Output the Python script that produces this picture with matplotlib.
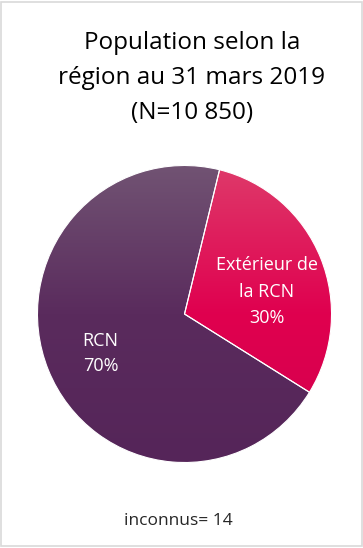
import matplotlib.pyplot as plt
import matplotlib.patches as mpatches
import numpy as np
from matplotlib.colors import LinearSegmentedColormap

# données
categories = ['Extérieur de\nla RCN', 'RCN']
valeurs = [30, 70]
pourcentages = ['30%', '70%']
titre = 'Population selon la\nrégion au 31 mars 2019\n(N=10 850)'
note = 'inconnus= 14'

plt.rcParams['font.family'] = ['Open Sans', 'DejaVu Sans']

fig = plt.figure(figsize=(3.63, 5.48), dpi=100)
# cadre gris autour du graphique
fig.patches.append(mpatches.Rectangle((0.004, 0.004), 0.992, 0.992, transform=fig.transFigure,
                                      fill=False, edgecolor='#D9D9D9', linewidth=1.2))

ax = fig.add_axes([36 / 363, 1 - 464 / 548, 297 / 363, 300 / 548])
wedges, _ = ax.pie(valeurs, startangle=-31.8, counterclock=True,
                   wedgeprops=dict(edgecolor='white', linewidth=0.8))
ax.set_aspect('equal')

# dégradés verticaux dans chaque part
degrades = [
    LinearSegmentedColormap.from_list('ext', ['#D2004D', '#E0004F', '#DE3A6A']),
    LinearSegmentedColormap.from_list('rcn', ['#552559', '#5A2B5D', '#715373']),
]
grad = np.linspace(0, 1, 256).reshape(-1, 1)
for w, cmap in zip(wedges, degrades):
    w.set_facecolor('none')
    im = ax.imshow(grad, cmap=cmap, origin='lower', extent=[-1, 1, -1, 1],
                   aspect='auto', zorder=0)
    im.set_clip_path(w)
ax.set_xlim(-1.01, 1.01)
ax.set_ylim(-1.01, 1.01)
ax.axis('off')

# étiquettes
ax.text(0.56, 0.15, categories[0] + '\n' + pourcentages[0], color='white', fontsize=13,
        ha='center', va='center', linespacing=1.6)
ax.text(-0.57, -0.265, categories[1] + '\n' + pourcentages[1], color='white', fontsize=13,
        ha='center', va='center', linespacing=1.5)

fig.text(192 / 363, 1 - 78 / 548, titre, ha='center', va='center', fontsize=17.5,
         linespacing=1.6, color='black')
fig.text(178 / 363, 1 - 521 / 548, note, ha='center', va='center', fontsize=12.5, color='#262626')

fig.savefig('out.png', dpi=100)
